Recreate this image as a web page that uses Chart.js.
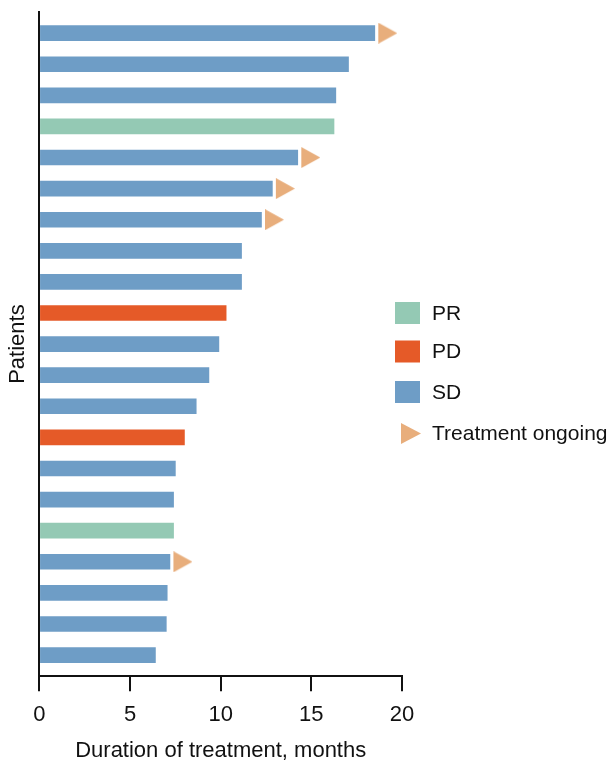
<!DOCTYPE html>
<html>
<head>
<meta charset="utf-8">
<script src="https://cdn.jsdelivr.net/npm/chart.js@4"></script>
<style>
  html, body { margin: 0; padding: 0; background: #fff; }
  #wrap { width: 615px; height: 764px; }
</style>
</head>
<body>
<div id="wrap"><canvas id="swimmer"></canvas></div>
<script>
// patients from top to bottom
var patients = [1, 2, 3, 4, 5, 6, 7, 8, 9, 10, 11, 12, 13, 14, 15, 16, 17, 18, 19, 20, 21];
var durations = [18.5, 17.05, 16.35, 16.25, 14.25, 12.85, 12.25, 11.15, 11.15, 10.3, 9.9,
                 9.35, 8.65, 8.0, 7.5, 7.4, 7.4, 7.2, 7.05, 7.0, 6.4];
var responses = ['SD', 'SD', 'SD', 'PR', 'SD', 'SD', 'SD', 'SD', 'SD', 'PD', 'SD',
                 'SD', 'SD', 'PD', 'SD', 'SD', 'PR', 'SD', 'SD', 'SD', 'SD'];
var ongoing = [true, false, false, false, true, true, true, false, false, false, false,
               false, false, false, false, false, false, true, false, false, false];
var xTicks = [0, 5, 10, 15, 20];
var legendLabels = ['PR', 'PD', 'SD', 'Treatment ongoing'];

var colores = { PR: '#94c9b4', PD: '#e55a28', SD: '#6e9dc6' };
var colorFlecha = '#e8ae7c';
var fuente = '"Liberation Sans", Arial, Helvetica, sans-serif';

// triangle image: blank left half so it sits just after the bar end
function hacerFlecha() {
    var c = document.createElement('canvas');
    c.width = 45; c.height = 21;
    var g = c.getContext('2d');
    g.fillStyle = colorFlecha;
    g.beginPath();
    g.moveTo(26, 0);
    g.lineTo(45, 10.5);
    g.lineTo(26, 21);
    g.closePath();
    g.fill();
    return c;
}
var flecha = hacerFlecha();

var barras = patients.map(function (p, i) { return { x: durations[i], y: i }; });
var flechas = [];
patients.forEach(function (p, i) {
    if (ongoing[i]) flechas.push({ x: durations[i], y: i });
});

var leyenda = {
    id: 'leyenda',
    afterDraw: function (chart) {
        var ctx = chart.ctx;
        var x0 = 395, ys = [313, 351.5, 392, 433.5];
        ctx.save();
        ctx.font = '21px ' + fuente;
        ctx.textBaseline = 'middle';
        ctx.textAlign = 'left';
        legendLabels.forEach(function (lab, i) {
            var cy = ys[i];
            if (i < 3) {
                ctx.fillStyle = colores[lab];
                ctx.fillRect(x0, cy - 11, 25, 22);
            } else {
                ctx.fillStyle = colorFlecha;
                ctx.beginPath();
                ctx.moveTo(401, cy - 10.5);
                ctx.lineTo(421, cy);
                ctx.lineTo(401, cy + 10.5);
                ctx.closePath();
                ctx.fill();
            }
            ctx.fillStyle = '#111';
            ctx.fillText(lab, 432, cy + 1);
        });
        ctx.restore();
    }
};

var ctx = document.getElementById('swimmer').getContext('2d');
var chart = new Chart(ctx, {
    type: 'bar',
    data: {
        datasets: [{
            type: 'bar',
            data: barras,
            backgroundColor: responses.map(function (r) { return colores[r]; }),
            borderWidth: 0,
            barThickness: 15,
            order: 2
        }, {
            type: 'scatter',
            data: flechas,
            pointStyle: flecha,
            pointRadius: 10,
            order: 1
        }]
    },
    options: {
        indexAxis: 'y',
        responsive: true,
        maintainAspectRatio: false,
        animation: false,
        layout: { padding: { top: 12, right: 213, bottom: 2.4, left: 0 } },
        plugins: { legend: { display: false }, tooltip: { enabled: false } },
        scales: {
            x: {
                type: 'linear',
                min: 0,
                max: 20,
                afterBuildTicks: function (scale) {
                    scale.ticks = xTicks.map(function (v) { return { value: v }; });
                },
                grid: { drawOnChartArea: false, drawTicks: true, tickLength: 15, color: '#111', lineWidth: 2 },
                border: { display: true, color: '#111', width: 2 },
                ticks: { color: '#111', font: { family: fuente, size: 22 }, padding: 11, maxRotation: 0 },
                title: {
                    display: true,
                    text: 'Duration of treatment, months',
                    color: '#111',
                    font: { family: fuente, size: 22, lineHeight: 1 },
                    padding: { top: 0, bottom: 0 }
                }
            },
            y: {
                type: 'linear',
                reverse: true,
                offset: false,
                min: -0.68,
                max: patients.length - 1 + 0.68,
                grid: { display: false },
                border: { display: true, color: '#111', width: 2 },
                ticks: { display: false },
                title: {
                    display: true,
                    text: 'Patients',
                    color: '#111',
                    font: { family: fuente, size: 22 },
                    padding: { top: 5, bottom: 0 }
                }
            }
        }
    },
    plugins: [leyenda]
});
</script>
</body>
</html>
